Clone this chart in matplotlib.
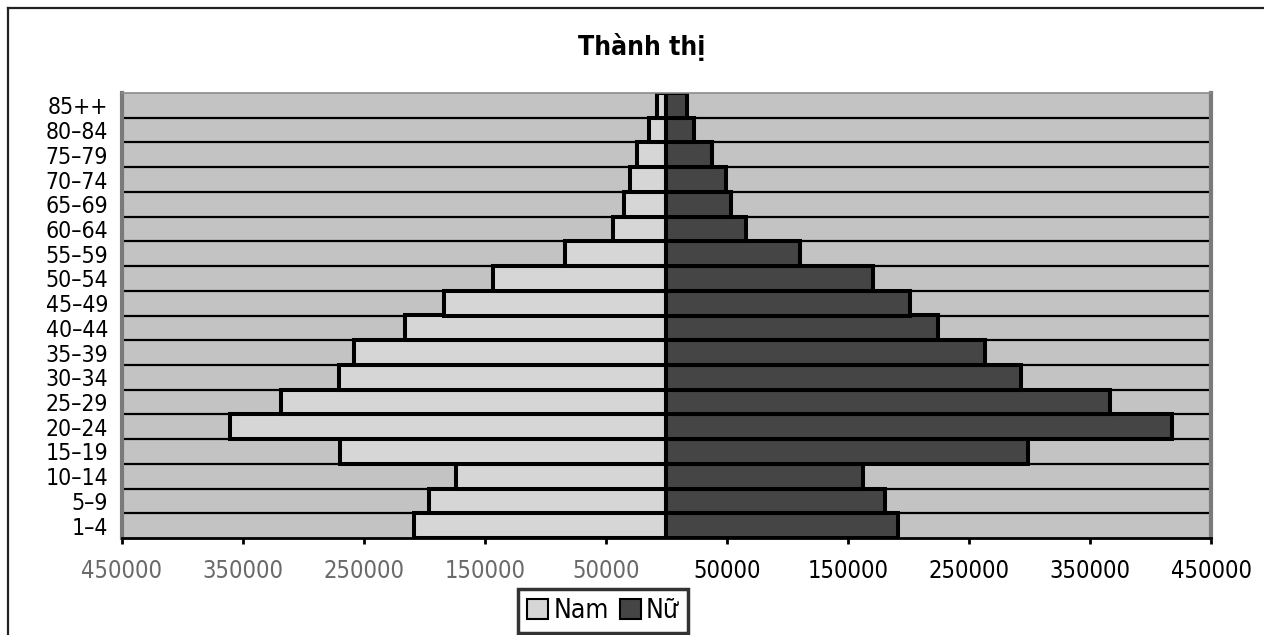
import matplotlib
matplotlib.use('Agg')
import os
import matplotlib.pyplot as plt
from matplotlib.patches import Patch
from matplotlib.lines import Line2D
from matplotlib import font_manager
from matplotlib.font_manager import FontProperties

# ---- data (bottom -> top) ----
age_groups = ["1–4", "5–9", "10–14", "15–19", "20–24", "25–29", "30–34",
              "35–39", "40–44", "45–49", "50–54", "55–59", "60–64",
              "65–69", "70–74", "75–79", "80–84", "85++"]
male = [209000, 196000, 174000, 270000, 360500, 318500, 270500, 258000,
        216500, 183500, 143500, 83500, 44500, 35500, 30000, 24000, 14500, 7500]
female = [191000, 180500, 162500, 298500, 417500, 366500, 293000, 263500,
          224500, 201500, 171000, 110500, 65500, 53500, 49000, 37500, 22500, 17000]
tick_values = [-450000, -350000, -250000, -150000, -50000,
               50000, 150000, 250000, 350000, 450000]
tick_labels = ["450000", "350000", "250000", "150000", "50000",
               "50000", "150000", "250000", "350000", "450000"]
title = "Thành thị"
series_names = ["Nam", "Nữ"]

# look for a narrow / condensed sans face (text in the reference is condensed)
reg_file = bold_file = None
for f in font_manager.fontManager.ttflist:
    base = os.path.basename(f.fname).lower()
    if ('narrow' in base or 'condensed' in base) and 'italic' not in base \
            and 'oblique' not in base and 'mono' not in base and 'serif' not in base:
        if ('bold' in base) and bold_file is None:
            bold_file = f.fname
        elif ('regular' in base or base.endswith('narrow.ttf') or
              base.endswith('condensed.ttf')) and 'light' not in base \
                and 'medium' not in base and reg_file is None:
            reg_file = f.fname

W, H = 1264, 635
plt.rcParams['font.family'] = ['Liberation Sans', 'DejaVu Sans']
if reg_file:
    fpx = FontProperties(fname=reg_file, size=17)
    fpy = FontProperties(fname=reg_file, size=16.5)
    fpt = FontProperties(fname=bold_file or reg_file, size=19,
                         weight='bold')
    fpl = FontProperties(fname=reg_file, size=19)
else:
    fpx = FontProperties(family=['Liberation Sans', 'DejaVu Sans'], size=15)
    fpy = FontProperties(family=['Liberation Sans', 'DejaVu Sans'], size=15)
    fpt = FontProperties(family=['Liberation Sans', 'DejaVu Sans'], size=19,
                         weight='bold')
    fpl = FontProperties(family=['Liberation Sans', 'DejaVu Sans'], size=17)

fig = plt.figure(figsize=(W / 100, H / 100), dpi=100)
fig.patch.set_facecolor('white')
ax = fig.add_axes([122 / W, 1 - 538 / H, (1211 - 122) / W, (538 - 93) / H])
ax.set_facecolor('#c3c3c3')

n = len(age_groups)
ys = list(range(n))
male_neg = [-v for v in male]

for k in range(n - 1):
    ax.axhline(k + 0.5, color='black', lw=1.6, zorder=1)

ax.barh(ys, male_neg, height=1.0, color='#d6d6d6', edgecolor='black',
        linewidth=2.9, zorder=3)
ax.barh(ys, female, height=1.0, color='#454545', edgecolor='black',
        linewidth=2.9, zorder=3)

ax.set_xlim(-450000, 450000)
ax.set_ylim(-0.5, n - 0.5)
ax.set_yticks(ys)
ax.set_yticklabels(age_groups, fontproperties=fpy)
ax.tick_params(axis='y', length=0, pad=10)
ax.set_xticks(tick_values)
ax.set_xticklabels(tick_labels, fontproperties=fpx)
ax.tick_params(axis='x', direction='out', length=4, width=2, pad=11,
               color='black')
for lab, v in zip(ax.get_xticklabels(), tick_values):
    lab.set_color('#6a6a6a' if v < 0 else 'black')

ax.spines['top'].set_color('#8c8c8c')
ax.spines['top'].set_linewidth(1.2)
ax.spines['left'].set_color('#7a7a7a')
ax.spines['left'].set_linewidth(3)
ax.spines['right'].set_color('#7a7a7a')
ax.spines['right'].set_linewidth(3)
ax.spines['bottom'].set_color('black')
ax.spines['bottom'].set_linewidth(2)
for s in ax.spines.values():
    s.set_zorder(5)

fig.text(642 / W, 1 - 55 / H, title, ha='center', va='baseline',
         fontproperties=fpt)

handles = [Patch(facecolor='#d6d6d6', edgecolor='black', linewidth=1.5),
           Patch(facecolor='#454545', edgecolor='black', linewidth=1.5)]
leg = fig.legend(handles, series_names, loc='center',
                 bbox_to_anchor=(603 / W, 1 - 611 / H), ncol=2,
                 prop=fpl, frameon=True, fancybox=False,
                 handlelength=0.8, handleheight=0.8, handletextpad=0.2,
                 columnspacing=0.4, borderpad=0.35, borderaxespad=0)
leg.get_frame().set_edgecolor('black')
leg.get_frame().set_linewidth(2.5)

fig.add_artist(Line2D([8 / W, 1], [1 - 8 / H, 1 - 8 / H], color='#222222',
                      lw=1.6, transform=fig.transFigure))
fig.add_artist(Line2D([8 / W, 8 / W], [0, 1 - 8 / H], color='#222222',
                      lw=1.6, transform=fig.transFigure))

fig.savefig('out.png', dpi=100)
